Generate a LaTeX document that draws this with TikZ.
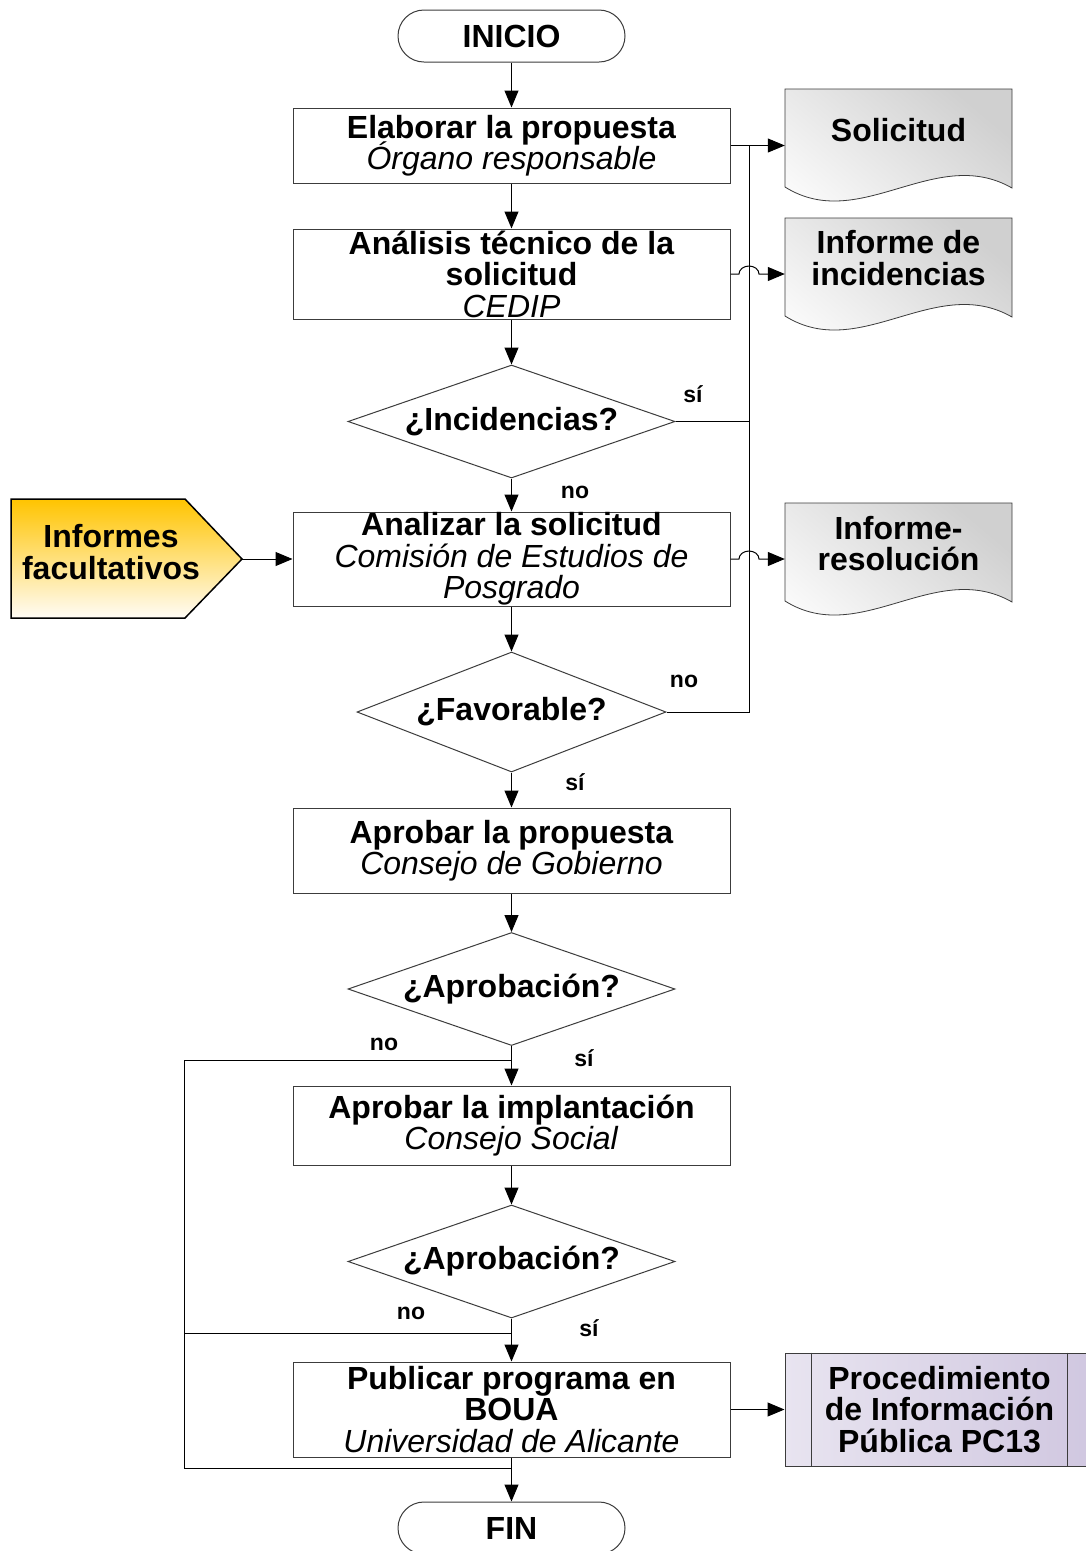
\documentclass[tikz,border=0pt]{standalone}
\usepackage{fontspec}
\setmainfont{Liberation Sans}
\usetikzlibrary{shapes.geometric,arrows.meta,calc}
\definecolor{gold}{RGB}{255,196,0}
\definecolor{cream}{RGB}{255,252,246}
\definecolor{docdark}{RGB}{208,208,208}
\definecolor{doclight}{RGB}{250,250,250}
\definecolor{lavl}{RGB}{232,228,240}
\definecolor{lavd}{RGB}{208,199,224}
\definecolor{edge}{RGB}{60,60,60}
\newcommand\bigf{\fontsize{32}{31.5}\selectfont\lineskiplimit=-100pt\relax}
\newcommand\smallf{\fontsize{23}{23}\selectfont}
\newcommand\docshape{\shadedraw[draw=edge, line width=0.8pt, top color=docdark, bottom color=doclight, shading angle=-40] (0,0) -- (227,0) -- (227,99) .. controls (150,55) and (75,145) .. (0,98) -- cycle;}
\begin{document}
\begin{tikzpicture}[x=1pt,y=-1pt,
  box/.style={rectangle, draw=edge, line width=1pt, minimum width=437pt, inner sep=0pt, align=center, font=\bigf},
  term/.style={rectangle, rounded corners=26pt, draw=edge, line width=1pt, minimum width=227pt, minimum height=52pt, font=\bigf\bfseries},
  dec/.style={diamond, aspect=2.9, draw=edge, line width=1pt, inner sep=0pt, minimum width=327pt, minimum height=113pt, font=\bigf\bfseries},
  doctext/.style={minimum width=227pt, inner sep=0pt, align=center, font=\bigf\bfseries},
  lbl/.style={font=\smallf\bfseries, inner sep=0pt},
  conn/.style={line width=1pt, -{Triangle[length=17pt,width=14pt]}},
  wire/.style={line width=1pt}]
\useasboundingbox (0,0) rectangle (1085,1551);
\fill[white] (0,0) rectangle (1085,1551);

% main flow
\node[term] (inicio) at (511.5,36) {INICIO};
\node[box, minimum height=75pt] (b1) at (511.5,145.5) {\textbf{Elaborar la propuesta}\\\textit{Órgano responsable}};
\node[box, minimum height=90pt] (b2) at (511.5,274) {\textbf{Análisis técnico de la}\\\textbf{solicitud}\\\textit{CEDIP}};
\node[dec] (d1) at (511.5,421.5) {¿Incidencias?};
\node[box, minimum height=94pt] (b3) at (511.5,559) {\textbf{Analizar la solicitud}\\\textit{Comisión de Estudios de}\\\textit{Posgrado}};
\node[dec, minimum width=309pt, minimum height=120pt] (d2) at (511.5,712) {¿Favorable?};
\node[box, minimum height=85pt] (b4) at (511.5,850.5) {\textbf{Aprobar la propuesta}\\\textit{Consejo de Gobierno}};
\node[dec] (d3) at (511.5,989) {¿Aprobación?};
\node[box, minimum height=79pt] (b5) at (511.5,1125.5) {\textbf{Aprobar la implantación}\\\textit{Consejo Social}};
\node[dec] (d4) at (511.5,1261.5) {¿Aprobación?};
\node[box, minimum height=95pt] (b6) at (511.5,1409.5) {\textbf{Publicar programa en}\\\textbf{BOUA}\\\textit{Universidad de Alicante}};
\node[term] (fin) at (511.5,1528) {FIN};

% documents
\begin{scope}[shift={(785,89)}]\docshape\end{scope}
\begin{scope}[shift={(785,218)}]\docshape\end{scope}
\begin{scope}[shift={(785,503)}]\docshape\end{scope}
\node[doctext] (sol) at (898.5,130) {Solicitud};
\node[doctext] (inc) at (898.5,258) {Informe de\\incidencias};
\node[doctext] (res) at (898.5,543.5) {Informe-\\resolución};

% predefined process
\node[rectangle, draw=edge, line width=1pt, minimum width=309pt, minimum height=113pt, left color=lavl, right color=lavd, align=center, font=\bigf\bfseries, inner sep=0pt] (proc) at (939.5,1409.5) {Procedimiento\\de Información\\Pública PC13};
\draw[draw=edge, line width=1pt] ([xshift=27pt]proc.north west) -- ([xshift=27pt]proc.south west);
\draw[draw=edge, line width=1pt] ([xshift=-27pt]proc.north east) -- ([xshift=-27pt]proc.south east);

% external input
\shadedraw[draw=black, line width=1.5pt, top color=gold, bottom color=cream] (11,499) -- (185,499) -- (242,559) -- (185,618) -- (11,618) -- cycle;
\node[font=\bigf\bfseries, align=center, inner sep=0pt] (infac) at (111,552) {Informes\\facultativos};
\coordinate (infactip) at (242,559);

% connectors
\draw[conn] (inicio) -- (b1);
\draw[conn] (b1) -- (b2);
\draw[conn] (b2) -- (d1);
\draw[conn] (d1) -- (b3);
\draw[conn] (b3) -- (d2);
\draw[conn] (d2) -- (b4);
\draw[conn] (b4) -- (d3);
\draw[conn] (d3) -- (b5);
\draw[conn] (b5) -- (d4);
\draw[conn] (d4) -- (b6);
\draw[conn] (b6) -- (fin);

\coordinate (bus) at (749,0);
\draw[conn] (b1.east) -- (b1.east -| sol.west);
\draw[wire] (d1.east) -- (d1.east -| bus);
\draw[wire] (d2.east) -- (d2.east -| bus) -- (b1.east -| bus);
\draw[conn] (b2.east) -- ($(b2.east -| bus)+(-10,0)$) arc[start angle=180, end angle=360, x radius=10, y radius=8] -- (b2.east -| inc.west);
\draw[conn] (b3.east) -- ($(b3.east -| bus)+(-10,0)$) arc[start angle=180, end angle=360, x radius=10, y radius=8] -- (b3.east -| res.west);
\draw[conn] (infactip) -- (b3.west);
\draw[conn] (b6.east) -- (proc.west);

\coordinate (ret) at (184,0);
\coordinate (n3) at ($(d3.south)+(0,14)$);
\coordinate (n4) at ($(d4.south)+(0,15)$);
\coordinate (fj) at ($(b6.south)+(0,11)$);
\draw[wire] (n3) -- (n3 -| ret) -- (ret |- fj) -- (fj);
\draw[wire] (n4) -- (n4 -| ret);

% labels
\node[lbl] (l1) at (693,394) {sí};
\node[lbl] (l2) at (575,492) {no};
\node[lbl] (l3) at (684,681) {no};
\node[lbl] (l4) at (575,782) {sí};
\node[lbl] (l5) at (384,1044) {no};
\node[lbl] (l6) at (584,1058) {sí};
\node[lbl] (l7) at (411,1313) {no};
\node[lbl] (l8) at (589,1328) {sí};
\end{tikzpicture}
\end{document}
